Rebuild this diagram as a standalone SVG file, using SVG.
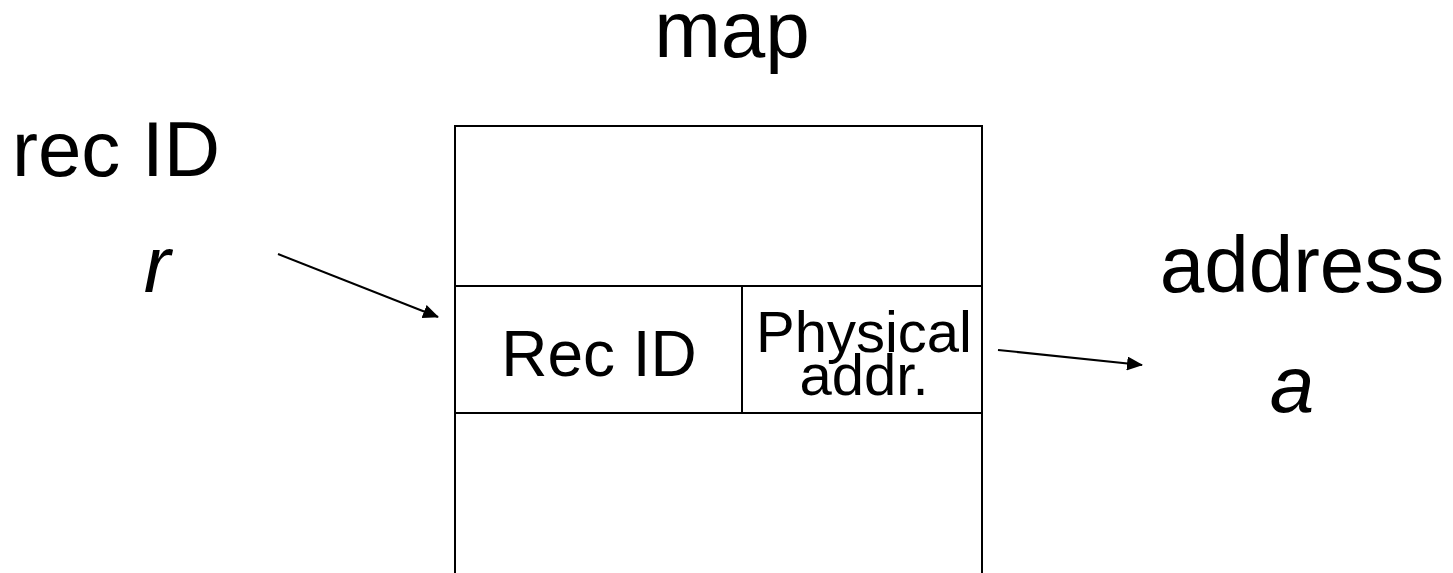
<svg xmlns="http://www.w3.org/2000/svg" width="1453" height="573" viewBox="0 0 1453 573">
<style>
text{font-family:"Liberation Sans",Arial,Helvetica,sans-serif;fill:#000}
.big{font-size:80px}
.it{font-style:italic}
.cell{fill:none;stroke:#000;stroke-width:2}
.conn{stroke:#000;stroke-width:2;fill:none}
</style>
<defs>
<marker id="ah" markerWidth="16" markerHeight="14" refX="15" refY="7" orient="auto" markerUnits="userSpaceOnUse">
<path d="M0,0 L16,7 L0,14 Z" fill="#000"/>
</marker>
</defs>
<rect width="1453" height="573" fill="#fff"/>
<g id="title"><text class="big" x="732" y="57" text-anchor="middle">map</text></g>
<g id="input">
<text x="12" y="176" font-size="78">rec ID</text>
<text class="big it" x="157" y="292" text-anchor="middle">r</text>
</g>
<g id="output">
<text class="big" x="1302" y="292" text-anchor="middle">address</text>
<text class="big it" x="1292" y="412" text-anchor="middle">a</text>
</g>
<g id="map">
<path class="cell" d="M455,573 V126 H982 V573"/>
<line class="cell" x1="455" y1="286" x2="982" y2="286"/>
<line class="cell" x1="455" y1="413" x2="982" y2="413"/>
<line class="cell" x1="742" y1="286" x2="742" y2="413"/>
</g>
<g id="recid"><text x="599" y="376" font-size="64" text-anchor="middle">Rec ID</text></g>
<g id="physaddr">
<text x="864" y="352" font-size="58" text-anchor="middle">Physical</text>
<text x="864" y="395" font-size="58" text-anchor="middle">addr.</text>
</g>
<g id="connectors">
<line class="conn" x1="278" y1="254" x2="438" y2="317" marker-end="url(#ah)"/>
<line class="conn" x1="998" y1="350" x2="1142" y2="365" marker-end="url(#ah)"/>
</g>
</svg>
